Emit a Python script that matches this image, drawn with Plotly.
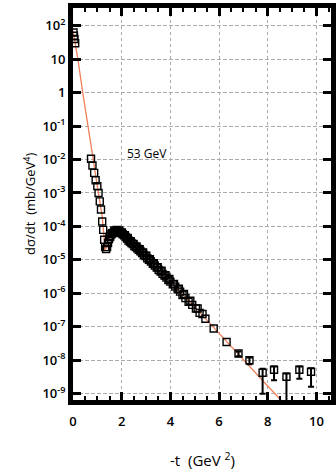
import plotly.graph_objects as go

# pp elastic differential cross section at sqrt(s) = 53 GeV
# main data set (open squares): -t in GeV^2, dsigma/dt in mb/GeV^4
t_data = [0.02, 0.04, 0.06, 0.09,
          0.74, 0.80, 0.87, 0.93, 1.00, 1.05, 1.10, 1.15, 1.20, 1.24, 1.28,
          1.32, 1.36, 1.40, 1.44, 1.48, 1.53, 1.58, 1.63, 1.68, 1.73, 1.78,
          1.83, 1.88, 1.93, 1.98, 2.04, 2.10, 2.16, 2.22, 2.28, 2.34, 2.40,
          2.46, 2.52, 2.58, 2.64, 2.70, 2.77, 2.84, 2.91, 2.98, 3.05, 3.12,
          3.20, 3.28, 3.36, 3.44, 3.52, 3.60, 3.68, 3.76, 3.84, 3.92, 4.00,
          4.10, 4.20, 4.30, 4.40, 4.50, 4.62, 4.75, 4.90, 5.05, 5.20, 5.44,
          5.78, 6.31]
dsdt_data = [6.3e1, 5.0e1, 4.0e1, 3.0e1,
             1.05e-2, 6.6e-3, 4.0e-3, 2.4e-3, 1.6e-3, 1.0e-3, 5.6e-4, 3.2e-4, 1.4e-4, 7.9e-5, 4.0e-5,
             2.4e-5, 2.1e-5, 2.4e-5, 3.2e-5, 4.2e-5, 5.0e-5, 5.8e-5, 6.3e-5, 6.8e-5, 7.1e-5, 7.2e-5,
             7.2e-5, 7.1e-5, 6.8e-5, 6.3e-5, 5.8e-5, 5.4e-5, 4.8e-5, 4.3e-5, 3.8e-5, 3.5e-5, 3.2e-5,
             2.95e-5, 2.6e-5, 2.4e-5, 2.2e-5, 2.0e-5, 1.8e-5, 1.6e-5, 1.4e-5, 1.3e-5, 1.12e-5, 1.0e-5,
             8.9e-6, 7.6e-6, 6.8e-6, 5.9e-6, 5.0e-6, 4.5e-6, 3.8e-6, 3.4e-6, 2.95e-6, 2.5e-6, 2.24e-6,
             1.86e-6, 1.58e-6, 1.32e-6, 1.12e-6, 8.9e-7, 7.2e-7, 5.6e-7, 4.5e-7, 3.5e-7, 2.6e-7, 1.74e-7,
             8.9e-8, 3.5e-8]

# second, overlapping data set in the second-maximum region
t_data_b = [1.50, 1.60, 1.70, 1.80, 1.90, 2.01, 2.13, 2.25, 2.37, 2.49, 2.61, 2.74,
            2.88, 3.01, 3.16, 3.32, 3.48, 3.64, 3.80, 3.96, 4.15, 4.35, 4.56, 4.82,
            5.12, 5.32]
dsdt_data_b = [4.8e-5, 6.3e-5, 7.6e-5, 7.9e-5, 7.6e-5, 6.6e-5, 5.5e-5, 4.5e-5, 3.6e-5,
               3.0e-5, 2.5e-5, 2.1e-5, 1.66e-5, 1.32e-5, 1.05e-5, 7.9e-6, 6.0e-6, 4.7e-6,
               3.5e-6, 2.7e-6, 1.9e-6, 1.38e-6, 9.5e-7, 6.0e-7, 3.5e-7, 2.4e-7]

# large -t points with their (asymmetric) errors
t_tail = [6.80, 7.25, 7.79, 8.26, 8.77, 9.30, 9.78]
dsdt_tail = [1.58e-8, 1.0e-8, 4.2e-9, 5.2e-9, 3.2e-9, 5.2e-9, 4.5e-9]
err_hi = [2.4e-9, 2.0e-9, 1.35e-9, 1.3e-9, 0.8e-9, 1.3e-9, 1.2e-9]
err_lo = [2.7e-9, 2.4e-9, 3.2e-9, 2.7e-9, 2.9e-9, 2.4e-9, 2.9e-9]

# model curve
t_model = [0.0, 0.2, 0.4, 0.6, 0.8, 1.0, 1.1, 1.2, 1.26, 1.32, 1.38, 1.45,
           1.55, 1.7, 1.85, 2.0, 2.5, 3.0, 3.5, 4.0, 4.5, 5.0, 5.5, 6.0,
           6.5, 7.0, 7.5, 8.0, 8.5, 9.0]
dsdt_model = [7.1e1, 1.0e1, 1.0, 1.0e-1, 1.4e-2, 1.6e-3, 6.3e-4, 2.0e-4, 6.3e-5, 1.9e-5,
              2.5e-5, 4.0e-5, 5.6e-5, 6.8e-5, 6.9e-5, 6.3e-5, 2.8e-5, 1.26e-5, 5.2e-6, 2.24e-6,
              9.3e-7, 4.0e-7, 1.58e-7, 6.3e-8, 2.5e-8, 1.02e-8, 4.2e-9, 1.7e-9, 6.9e-10, 2.8e-10]

x_ticks = [0, 2, 4, 6, 8, 10]
y_ticks = [1e2, 1e1, 1e0, 1e-1, 1e-2, 1e-3, 1e-4, 1e-5, 1e-6, 1e-7, 1e-8, 1e-9]
y_ticktext = ["10<sup>2</sup>", "10", "1", "10<sup>-1</sup>", "10<sup>-2</sup>",
              "10<sup>-3</sup>", "10<sup>-4</sup>", "10<sup>-5</sup>", "10<sup>-6</sup>",
              "10<sup>-7</sup>", "10<sup>-8</sup>", "10<sup>-9</sup>"]

square = dict(symbol="square-open", size=7, color="black", line=dict(width=1.4, color="black"))

fig = go.Figure()
fig.add_trace(go.Scatter(x=t_model, y=dsdt_model, mode="lines",
                         line=dict(color="#f0805a", width=1.3), hoverinfo="skip"))
fig.add_trace(go.Scatter(x=t_data, y=dsdt_data, mode="markers", marker=square))
fig.add_trace(go.Scatter(x=t_data_b, y=dsdt_data_b, mode="markers", marker=square))
fig.add_trace(go.Scatter(x=t_tail, y=dsdt_tail, mode="markers", marker=square,
                         error_y=dict(type="data", symmetric=False, array=err_hi,
                                      arrayminus=err_lo, color="black",
                                      thickness=2, width=3)))

font = "Open Sans, Liberation Sans, sans-serif"
axis_common = dict(
    showline=True, linewidth=5, linecolor="black", mirror="ticks",
    ticks="inside", ticklen=8, tickwidth=3, tickcolor="black",
    showgrid=True, gridcolor="#ababab", gridwidth=1,
    zeroline=False, tickfont=dict(family=font, size=13, color="black", weight=600),
)

fig.update_xaxes(range=[0, 10.6], tickvals=x_ticks, griddash="dot", ticklabelstandoff=5,
                 minor=dict(dtick=0.5, ticks="inside", ticklen=4, tickwidth=2,
                            tickcolor="black", showgrid=False),
                 **axis_common)
fig.update_yaxes(type="log", range=[-9.19, 2.53], tickvals=y_ticks, ticktext=y_ticktext,
                 griddash="4px,2px", **axis_common)

fig.add_annotation(x=3.05, y=-1.82, xref="x", yref="y", text="53 GeV", showarrow=False,
                   font=dict(family=font, size=12, color="black"))
fig.add_annotation(x=-0.171, y=0.5, xref="paper", yref="paper", textangle=-90,
                   text="dσ/dt  (mb/GeV<sup>4</sup>)", showarrow=False,
                   xanchor="center", yanchor="middle",
                   font=dict(family=font, size=13, color="black"))
fig.add_annotation(x=0.5, y=-0.153, xref="paper", yref="paper",
                   text="-t  (GeV <sup>2</sup>)", showarrow=False,
                   xanchor="center", yanchor="middle",
                   font=dict(family=font, size=15, color="black"))

fig.update_layout(width=336, height=476, margin=dict(l=73, r=0, t=8, b=76),
                  paper_bgcolor="white", plot_bgcolor="white", showlegend=False)

fig.write_html("out.html")
